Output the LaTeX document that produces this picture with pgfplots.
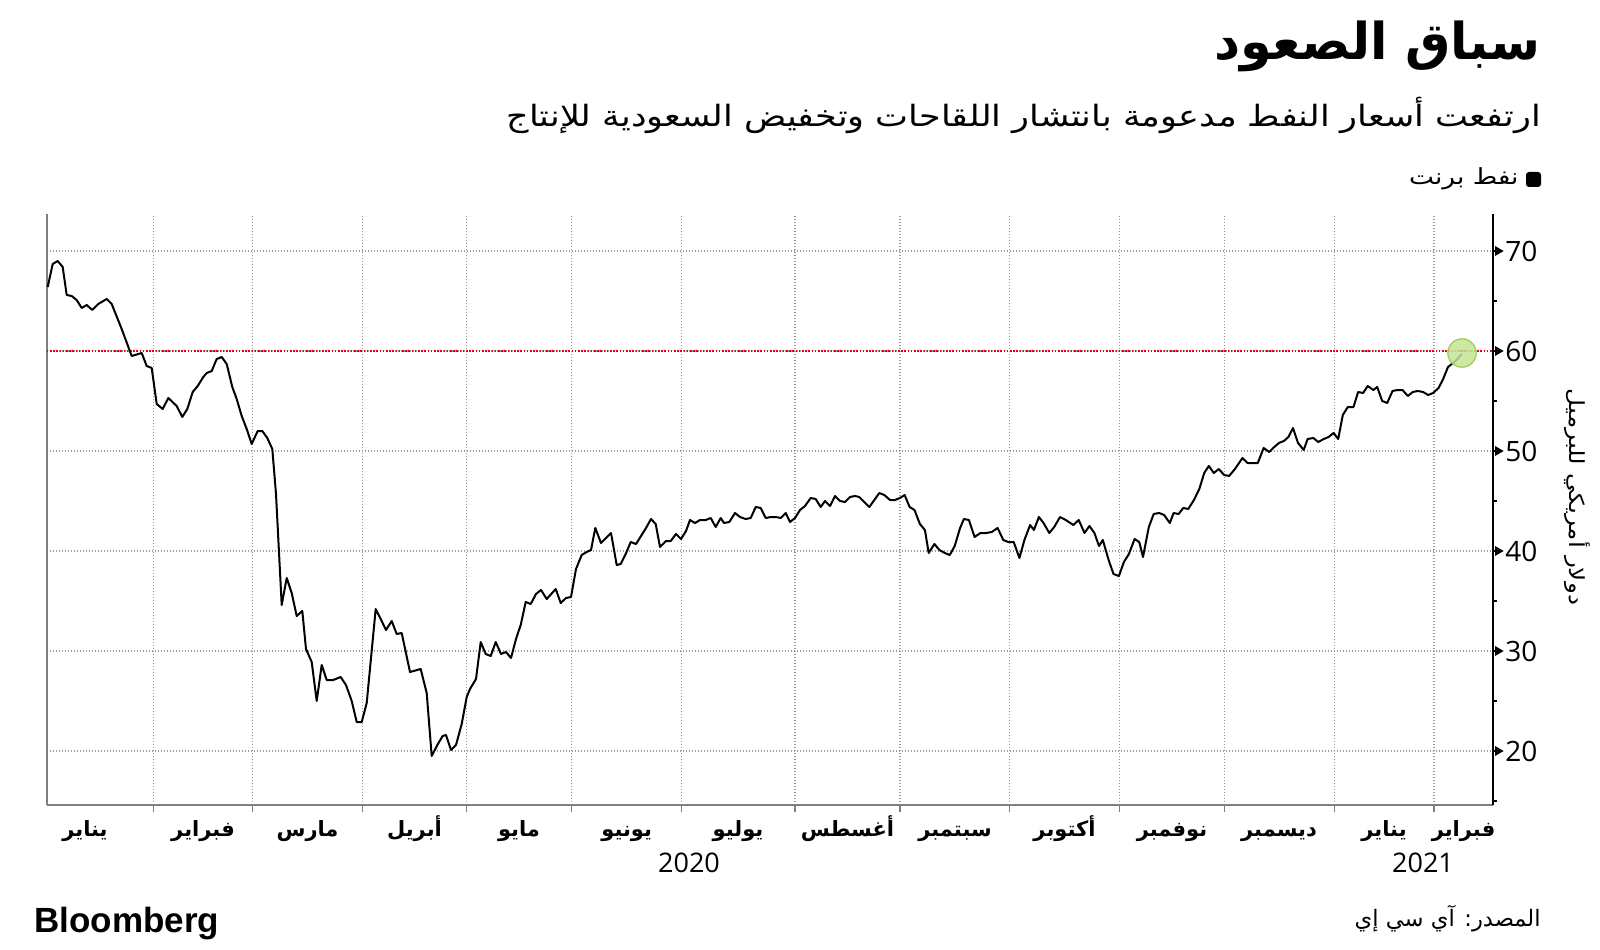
\documentclass[border=0pt]{standalone}
\usepackage{pgfplots}
\pgfplotsset{compat=1.18}
\usepackage{pgfplotstable}
\usepackage{fontspec}
\setmainfont{Open Sans}
\newfontfamily\arabicfont[Script=Arabic]{DejaVu Sans}
\newfontfamily\arw[Script=Arabic, FakeStretch=1.19]{DejaVu Sans}
\newfontfamily\bbfont{Liberation Sans}
\TeXXeTstate=1
\newcommand{\ar}[1]{{\arabicfont\beginR #1\endR}}
\newcommand{\arW}[1]{{\arw\beginR #1\endR}}
\definecolor{gridgray}{HTML}{9A9A9A}
\definecolor{axgray}{HTML}{7F7F7F}
\definecolor{refred}{HTML}{E3001B}
\definecolor{dotfill}{HTML}{C4E494}
\definecolor{dotedge}{HTML}{9CCB5C}

\pgfplotstableread{
x y
47.7 66.4
52.7 68.7
57.7 69.0
62.7 68.4
66.7 65.6
71.7 65.5
76.7 65.1
81.7 64.3
86.7 64.6
92.3 64.1
98.3 64.7
106.7 65.2
111.7 64.7
121.7 62.2
131.7 59.5
141.7 59.8
146.7 58.5
151.7 58.3
156.7 54.7
162.7 54.2
168.3 55.3
176.7 54.5
182.3 53.4
187.3 54.2
192.7 55.9
197.7 56.5
203.3 57.4
206.7 57.8
211.7 58.0
216.7 59.2
221.7 59.4
226.7 58.7
232.3 56.4
236.7 55.2
241.7 53.5
246.7 52.2
251.7 50.7
257.7 52.0
262.3 52.0
267.3 51.3
272.3 50.2
276 45.7
281.7 34.6
286.7 37.3
291.7 35.8
296.7 33.5
302.3 34.0
306 30.2
311.7 28.9
316.7 25.0
321.7 28.6
326.7 27.1
333.3 27.1
340.7 27.4
346 26.6
351.7 25.0
356.7 22.9
361.7 22.9
366.7 24.8
375.7 34.2
380.7 33.2
386 32.1
391.7 33.0
396.7 31.7
401.7 31.8
410 27.9
420.7 28.2
426.7 25.8
431.7 19.5
437.3 20.6
442.7 21.5
446 21.6
451 20.1
456 20.6
461.7 22.7
466.7 25.4
470 26.2
476 27.2
480.7 30.9
485.7 29.7
490.7 29.5
495.7 30.9
501 29.7
506 29.9
511 29.3
516 31.2
520.7 32.6
525.7 34.9
530.7 34.7
536 35.7
541 36.1
546.7 35.2
555.7 36.2
560.7 34.8
566 35.3
571 35.4
576 38.2
581.7 39.6
586.7 39.9
591 40.1
595.3 42.3
601 40.8
606 41.3
611 41.8
616.7 38.6
620.7 38.7
625.7 39.7
630.7 40.9
636 40.7
641 41.5
646 42.3
651 43.2
655.7 42.7
660 40.4
666 41.0
670.7 41.0
676 41.7
681 41.2
686 42.0
690 43.1
695 42.8
700 43.1
705.7 43.1
710.7 43.3
715.7 42.4
720.7 43.3
724 42.8
729.3 42.9
735 43.8
740 43.4
745.7 43.2
750.7 43.3
755.7 44.4
760.7 44.3
765.7 43.3
770.7 43.4
775.7 43.4
780.7 43.3
785.7 43.8
790 42.9
795 43.3
800 44.1
805 44.5
810.7 45.3
815.7 45.2
820.7 44.4
825 45.0
830 44.5
835 45.5
840 45.0
845 44.9
850 45.4
855 45.5
859.3 45.4
864.3 44.9
869.3 44.4
879.3 45.8
884.3 45.6
890 45.1
895 45.1
900 45.3
904.6 45.6
909.6 44.4
914.5 44.1
919.9 42.7
924.9 42.1
928.7 39.8
934.4 40.7
939.4 40.1
944.8 39.8
949.8 39.6
954.7 40.5
960.1 42.3
963.9 43.2
968.9 43.1
974.6 41.4
980.4 41.8
986.1 41.8
991.8 41.9
997.6 42.3
1003.3 41.1
1008.3 40.9
1013.7 40.9
1019.4 39.3
1024.4 41.1
1030.1 42.6
1033.9 42.1
1038.9 43.4
1043.5 42.8
1049.3 41.8
1054.2 42.4
1060 43.4
1065.7 43.1
1073.4 42.6
1078.7 43.1
1084.5 41.8
1089.4 42.5
1094.4 41.8
1099 40.5
1102.8 41.1
1108.6 39.1
1113.5 37.7
1118.9 37.5
1123.9 38.9
1128.9 39.7
1134.6 41.2
1139.2 40.9
1143 39.4
1148.8 42.4
1153.7 43.7
1159.1 43.8
1164.1 43.6
1169.8 42.8
1173.6 43.8
1178.6 43.7
1183.2 44.3
1188.2 44.2
1193.9 45.1
1199.3 46.2
1204.2 47.8
1208.8 48.5
1213.8 47.8
1218.8 48.2
1224.1 47.6
1229.1 47.5
1234.9 48.2
1242.5 49.3
1247.5 48.8
1252.8 48.8
1257.8 48.8
1263.6 50.3
1269.3 49.9
1274.3 50.4
1278.9 50.8
1283.9 51.0
1288.4 51.4
1293 52.3
1298 50.8
1303.7 50.1
1307.6 51.2
1313.3 51.3
1318.3 50.9
1323.7 51.2
1328.6 51.4
1333.6 51.8
1338.2 51.2
1342.8 53.6
1347.8 54.4
1353.5 54.4
1358.1 55.9
1363.1 55.8
1367.7 56.5
1373.4 56.1
1377.2 56.4
1382.2 55.0
1387.2 54.8
1392.5 56.0
1397.5 56.1
1402.5 56.1
1407.8 55.5
1412.8 55.9
1417.8 56.0
1423.1 55.9
1428.1 55.6
1433.1 55.8
1438.5 56.3
1442.7 57.1
1448 58.4
1453 58.8
1457.6 59.2
1461.8 59.7
}\brent

\begin{document}
\begin{tikzpicture}[x=0.5pt,y=0.5pt]
\path[fill=white] (0,0) rectangle (1600,949);
\begin{axis}[
  at={(23.35pt,72pt)}, anchor=south west,
  scale only axis, width=723.15pt, height=295.5pt,
  xmin=46.7, xmax=1493, ymin=14.6, ymax=73.7,
  clip=false,
  axis x line*=bottom, axis y line*=right,
  x axis line style={axgray, line width=0.8pt},
  y axis line style={black, line width=0.8pt},
  tick align=outside,
  major tick length=3.5pt,
  minor tick length=1.8pt,
  xtick={153.3,252.7,362.3,466.7,571.7,681.7,795,900,1009.8,1119.3,1224.5,1334.4,1433.9},
  xticklabels={},
  x tick style={axgray, line width=0.6pt},
  extra x ticks={85,203,307.5,414.5,519,626.7,738,847.5,955,1064.5,1172,1279,1384,1463.5},
  extra x tick labels={\ar{يناير},\ar{فبراير},\ar{مارس},\ar{أبريل},\ar{مايو},\ar{يونيو},\ar{يوليو},\ar{أغسطس},\ar{سبتمبر},\ar{أكتوبر},\ar{نوفمبر},\ar{ديسمبر},\ar{يناير},\ar{فبراير}},
  extra x tick style={grid=none, major tick length=0pt,
    tick label style={font=\fontsize{10.5}{12}\selectfont\bfseries, anchor=base, yshift=-15.5pt}},
  ytick={20,30,40,50,60,70},
  minor ytick={15,25,35,45,55,65},
  y tick style={black, line width=0.6pt},
  yticklabel style={font=\fontsize{14}{16}\selectfont, anchor=west, inner sep=0pt, xshift=2.5pt},
  /pgf/number format/assume math mode=true,
  grid=major,
  major grid style={gridgray, line width=0.6pt, dash pattern=on 0.6pt off 0.9pt},
]
\draw[axgray, line width=0.8pt] (rel axis cs:0,0) -- (rel axis cs:0,1);
\addplot[only marks, mark=*, mark size=7.1pt, mark options={fill=dotfill, draw=dotedge, line width=0.6pt, fill opacity=0.85}] coordinates {(1462,59.8)};
\addplot[refred, line width=0.7pt, dash pattern=on 0.8pt off 0.8pt] coordinates {(46.7,60) (1493,60)};
\addplot[black, line width=1pt, line join=round] table[x=x,y=y]{\brent};
\addplot[only marks, mark=triangle*, mark size=2.4pt, mark options={rotate=-90, black, draw=black}] coordinates {(1498,20) (1498,30) (1498,40) (1498,50) (1498,60) (1498,70)};
\end{axis}
\node[anchor=base east, inner sep=0pt, font=\fontsize{25.4}{28}\selectfont\bfseries] at (1541,889) {\ar{سباق الصعود}};
\node[anchor=base east, inner sep=0pt, font=\fontsize{14.7}{17}\selectfont] at (1541,822) {\arW{ارتفعت أسعار النفط مدعومة بانتشار اللقاحات وتخفيض السعودية للإنتاج}};
\fill[black, rounded corners=1.5pt] (1526,762) rectangle (1541,777);
\node[anchor=base east, inner sep=0pt, font=\fontsize{11.1}{13}\selectfont] at (1519,764) {\arW{نفط برنت}};
\node[rotate=-90, inner sep=0pt, font=\fontsize{10.4}{12}\selectfont] at (1577,452) {\arW{دولار أمريكي للبرميل}};
\node[inner sep=0pt, font=\fontsize{13.5}{15}\selectfont] at (689,86) {2020};
\node[inner sep=0pt, font=\fontsize{13.5}{15}\selectfont] at (1423,86) {2021};
\node[anchor=base west, inner sep=0pt, font=\bbfont\bfseries\fontsize{17.5}{20}\selectfont] at (34,17) {Bloomberg};
\node[anchor=base east, inner sep=0pt, font=\fontsize{11.3}{13}\selectfont] at (1541,23) {\ar{المصدر: آي سي إي}};
\end{tikzpicture}
\end{document}
